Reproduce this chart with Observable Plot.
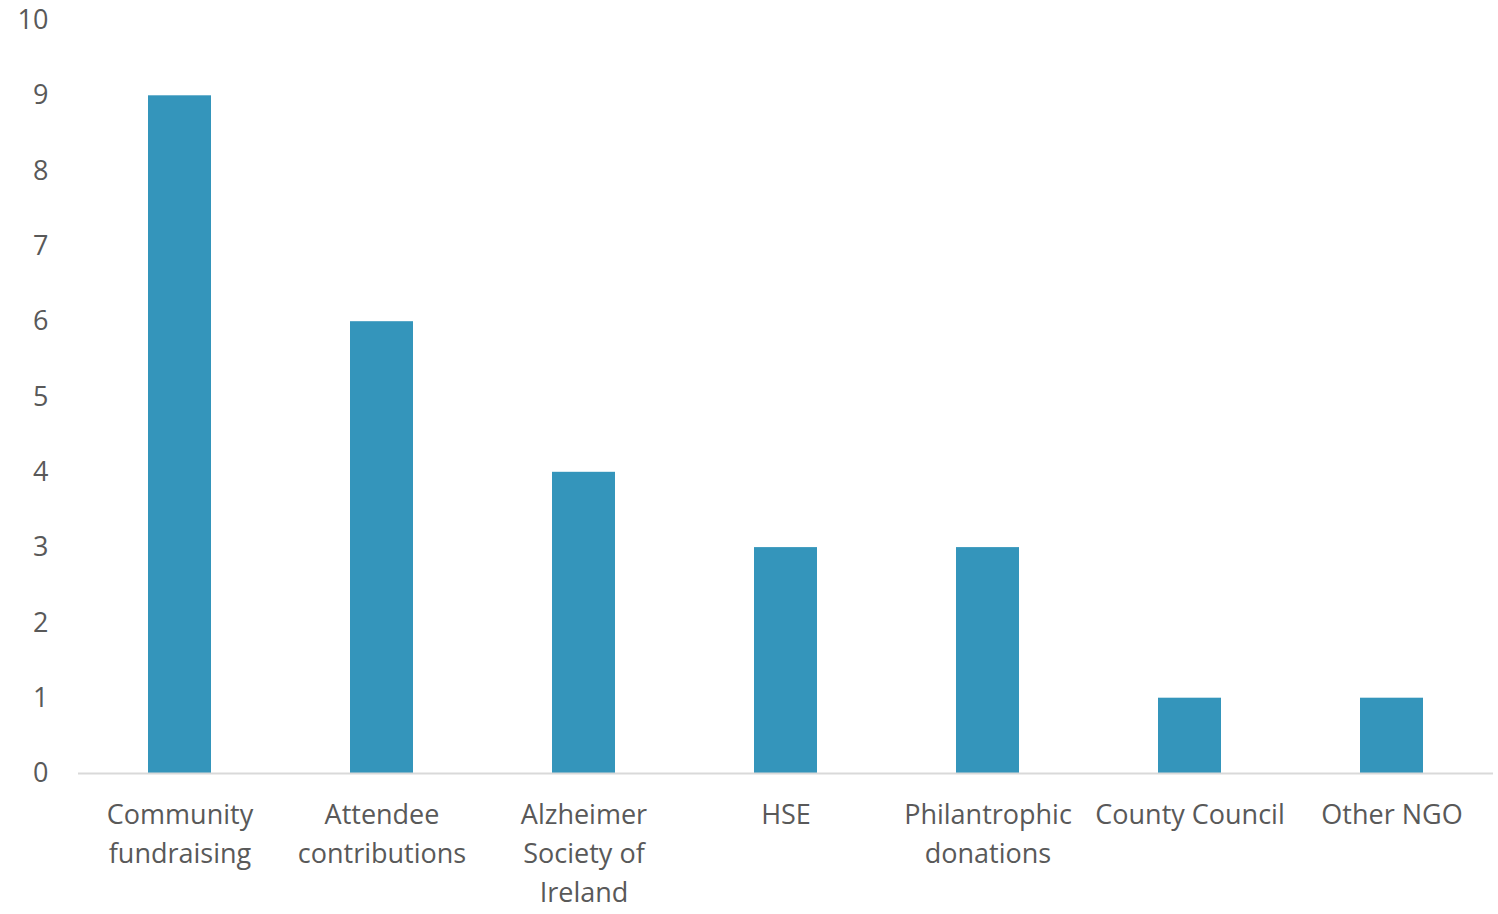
<!DOCTYPE html>
<html>
<head>
<meta charset="utf-8">
<script src="https://cdn.jsdelivr.net/npm/d3@7"></script>
<script src="https://cdn.jsdelivr.net/npm/@observablehq/plot@0.6"></script>
<style>
  html, body { margin: 0; padding: 0; background: #fff; }
  #chart svg { display: block; }
</style>
</head>
<body>
<div id="chart"></div>
<script>
const categories = ["Community\nfundraising", "Attendee\ncontributions", "Alzheimer\nSociety of\nIreland", "HSE", "Philantrophic\ndonations", "County Council", "Other NGO"];
const values = [9, 6, 4, 3, 3, 1, 1];
const yTicks = [0, 1, 2, 3, 4, 5, 6, 7, 8, 9, 10];

const data = categories.map((c, i) => ({category: c, value: values[i]}));

const chart = Plot.plot({
  width: 1498,
  height: 914,
  marginTop: 20,
  marginBottom: 141,
  marginLeft: 78,
  marginRight: 5,
  style: {fontFamily: "'Open Sans', sans-serif", fontSize: "27px", color: "#595959", background: "#fff"},
  x: {domain: categories, paddingInner: 0.69, paddingOuter: 0.345, label: null},
  y: {domain: [0, 10], label: null},
  marks: [
    Plot.barY(data, {x: "category", y: "value", fill: "#3495bb"}),
    Plot.ruleY([0], {stroke: "#d9d9d9", strokeWidth: 2}),
    Plot.axisY({ticks: yTicks, tickSize: 0, tickPadding: 30, label: null, fill: "#595959", fontSize: 27}),
    Plot.axisX({tickSize: 0, tickPadding: 23, label: null, fill: "#595959", fontSize: 27, lineHeight: 1.44, textOverflow: null})
  ]
});
document.getElementById("chart").appendChild(chart);
</script>
</body>
</html>
